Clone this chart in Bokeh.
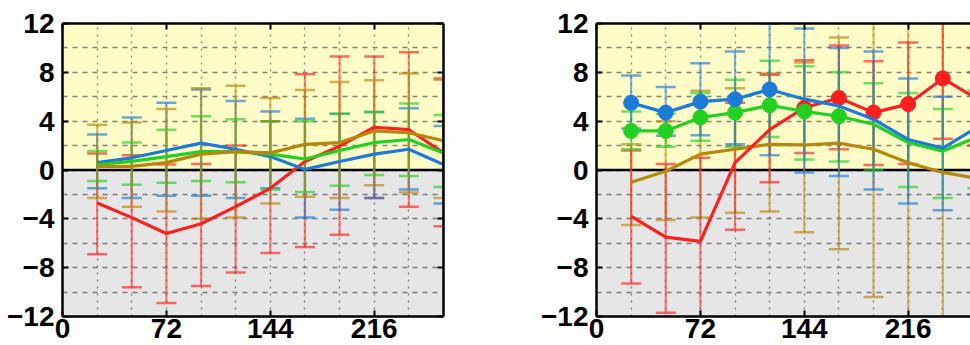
from bokeh.plotting import figure
from bokeh.models import (Range1d, FixedTicker, LinearAxis, Span, BoxAnnotation,
                          Whisker, TeeHead, ColumnDataSource)
from bokeh.layouts import row
from bokeh.embed import file_html
from bokeh.resources import INLINE

hours = [24, 48, 72, 96, 120, 144, 168, 192, 216, 240, 264]
x_ticks = [0, 72, 144, 216]
y_ticks = [-12, -8, -4, 0, 4, 8, 12]
y_labels = {-12: "\u221212", -8: "\u22128", -4: "\u22124", 0: "0", 4: "4", 8: "8", 12: "12"}

# ---- left panel ----
L_red = [-2.7, -3.9, -5.2, -4.4, -3.0, -1.5, 0.7, 1.95, 3.5, 3.3, 1.4]
L_blue = [0.6, 1.0, 1.6, 2.2, 1.7, 1.1, 0.05, 0.7, 1.3, 1.7, 0.45]
L_green = [0.45, 0.7, 1.1, 1.5, 1.5, 1.3, 0.9, 1.6, 2.25, 2.5, 1.4]
L_gold = [0.3, 0.3, 0.6, 1.3, 1.5, 1.4, 2.1, 2.25, 3.2, 3.05, 2.4]

L_red_lo = [-6.9, -9.6, -10.9, -9.5, -8.4, -6.8, -6.3, -5.3, -2.3, -3.0, -4.6]
L_red_hi = [1.35, 1.2, 0.45, 0.5, 2.0, 4.0, 7.85, 9.3, 9.3, 9.65, 7.5]
L_blue_lo = [-1.5, -2.3, -2.1, -2.1, -2.3, -1.5, -3.9, -3.25, -2.3, -1.6, -2.75]
L_blue_hi = [2.9, 4.3, 5.5, 6.6, 5.65, 4.8, 4.2, 4.6, 4.75, 5.05, 3.6]
L_green_lo = [-0.9, -1.2, -1.05, -0.9, -1.0, -1.6, -1.8, -1.3, -0.4, -0.5, -1.4]
L_green_hi = [1.55, 2.25, 3.3, 4.4, 4.15, 4.0, 4.0, 4.6, 4.75, 5.45, 4.5]
L_gold_lo = [-2.3, -3.0, -3.4, -4.0, -3.9, -2.75, -2.2, -2.3, -1.25, -1.85, -2.3]
L_gold_hi = [3.7, 3.9, 5.0, 6.7, 6.9, 5.9, 6.55, 7.2, 7.35, 7.9, 7.4]

# ---- right panel ----
R_red = [-3.8, -5.5, -5.85, 0.6, 3.3, 5.1, 5.9, 4.7, 5.4, 7.5, 5.8]
R_blue = [5.5, 4.7, 5.6, 5.8, 6.6, 5.8, 5.25, 4.15, 2.5, 1.8, 3.5]
R_green = [3.2, 3.2, 4.3, 4.7, 5.3, 4.8, 4.4, 3.75, 2.25, 1.55, 2.7]
R_gold = [-1.0, -0.1, 1.3, 1.7, 2.1, 2.05, 2.2, 1.7, 0.6, -0.2, -0.7]

R_red_lo = [-9.3, -11.7, -12.5, -4.9, -1.0, 1.4, 1.7, 0.4, 0.5, 2.55, 2.0]
R_red_hi = [1.6, 0.5, 1.0, 5.5, 7.8, 9.0, 10.2, 8.9, 10.45, 12.5, 10.0]
R_blue_lo = [3.4, 2.8, 2.85, 2.1, 1.2, -0.2, -0.5, -1.6, -2.75, -3.3, -2.0]
R_blue_hi = [7.75, 6.8, 8.75, 9.7, 12.0, 11.6, 10.0, 9.7, 7.5, 6.0, 8.0]
R_green_lo = [1.7, 1.9, 2.4, 1.9, 2.7, 0.85, 0.7, 0.0, -1.4, -2.3, -1.5]
R_green_hi = [4.8, 4.6, 6.3, 7.4, 8.95, 8.5, 8.0, 7.1, 6.3, 5.0, 6.5]
R_gold_lo = [-4.5, -4.1, -3.9, -3.5, -3.4, -5.1, -6.5, -10.4, -12.5, -12.5, -12.5]
R_gold_hi = [2.1, 4.0, 6.5, 6.7, 7.9, 8.8, 10.85, 12.5, 12.5, 12.5, 12.5]

# significance markers (right panel)
R_red_sig = [0, 0, 0, 0, 0, 1, 1, 1, 1, 1, 0]
R_blue_sig = [1, 1, 1, 1, 1, 0, 0, 0, 0, 0, 0]
R_green_sig = [1, 1, 1, 1, 1, 1, 1, 0, 0, 0, 0]

RED = "#ff1f1f"
BLUE = "#1c7ad8"
GREEN = "#22d022"
GOLD = "#b8860b"
YELLOW = "#fffcc8"
GRAY = "#e6e6e6"
FONT = "Liberation Sans"


def make_panel(width, x_end, right_border, has_right):
    p = figure(width=width, height=345, x_range=Range1d(0, x_end), y_range=Range1d(-12, 12),
               output_backend="svg", toolbar_location=None,
               min_border_left=62, min_border_right=right_border, min_border_top=23,
               min_border_bottom=29, background_fill_color=GRAY, outline_line_color=None)
    p.add_layout(BoxAnnotation(bottom=0, fill_color=YELLOW, fill_alpha=1.0,
                               line_color=None, level="image"))
    p.xgrid.ticker = FixedTicker(ticks=list(range(0, 265, 24)))
    p.ygrid.ticker = FixedTicker(ticks=list(range(-12, 13, 2)))
    p.xgrid.grid_line_color = "#333333"
    p.xgrid.grid_line_alpha = 0.6
    p.xgrid.grid_line_dash = "2 5"
    p.xgrid.grid_line_width = 1.3
    p.ygrid.grid_line_color = "#333333"
    p.ygrid.grid_line_alpha = 0.6
    p.ygrid.grid_line_dash = "5 5"
    p.ygrid.grid_line_width = 1.4

    for ax in (p.xaxis[0], p.yaxis[0]):
        ax.major_tick_in = 6
        ax.major_tick_out = 0
        ax.minor_tick_line_color = None
        ax.major_tick_line_width = 2
        ax.major_tick_line_color = "black"
        ax.axis_line_width = 2.5
        ax.axis_line_color = "black"
        ax.major_label_text_font = FONT
        ax.major_label_text_font_style = "bold"
        ax.major_label_text_font_size = "28px"
        ax.major_label_text_color = "black"
    p.xaxis.ticker = FixedTicker(ticks=x_ticks)
    p.yaxis.ticker = FixedTicker(ticks=y_ticks)
    p.yaxis.major_label_overrides = y_labels
    p.yaxis.major_label_standoff = 8
    p.xaxis.major_label_standoff = 2

    # frame borders on the other sides, with inward ticks but no labels
    extra = [("above", FixedTicker(ticks=[], minor_ticks=x_ticks))]
    if has_right:
        extra.append(("right", FixedTicker(ticks=[], minor_ticks=y_ticks)))
    for place, tk in extra:
        ax = LinearAxis(ticker=tk, minor_tick_in=6, minor_tick_out=0,
                        minor_tick_line_width=2, minor_tick_line_color="black",
                        axis_line_width=2.5, axis_line_color="black",
                        major_label_standoff=0)
        p.add_layout(ax, place)

    p.add_layout(Span(location=0, dimension="width", line_color="black",
                      line_width=2.5, level="underlay"))
    return p


def add_series(p, y, lo, hi, color, sig=None):
    src = ColumnDataSource(dict(x=hours, lo=lo, hi=hi))
    w = Whisker(source=src, base="x", lower="lo", upper="hi", dimension="height",
                line_color=color, line_alpha=0.55, line_width=2.2, level="underlay",
                upper_head=TeeHead(size=20, line_color=color, line_alpha=0.65, line_width=2.5),
                lower_head=TeeHead(size=20, line_color=color, line_alpha=0.65, line_width=2.5))
    p.add_layout(w)
    p.line(hours, y, line_color=color, line_width=3.2)
    if sig is not None:
        xs = [h for h, s in zip(hours, sig) if s]
        ys = [v for v, s in zip(y, sig) if s]
        p.scatter(xs, ys, size=15, fill_color=color, line_color=color)


p1 = make_panel(534, 264, 91, True)
add_series(p1, L_red, L_red_lo, L_red_hi, RED)
add_series(p1, L_blue, L_blue_lo, L_blue_hi, BLUE)
add_series(p1, L_green, L_green_lo, L_green_hi, GREEN)
add_series(p1, L_gold, L_gold_lo, L_gold_hi, GOLD)

p2 = make_panel(436, 259.2, 0, False)
add_series(p2, R_gold, R_gold_lo, R_gold_hi, GOLD)
add_series(p2, R_red, R_red_lo, R_red_hi, RED, R_red_sig)
add_series(p2, R_green, R_green_lo, R_green_hi, GREEN, R_green_sig)
add_series(p2, R_blue, R_blue_lo, R_blue_hi, BLUE, R_blue_sig)

layout = row(p1, p2)
open("out.html", "w").write(file_html(layout, INLINE))
